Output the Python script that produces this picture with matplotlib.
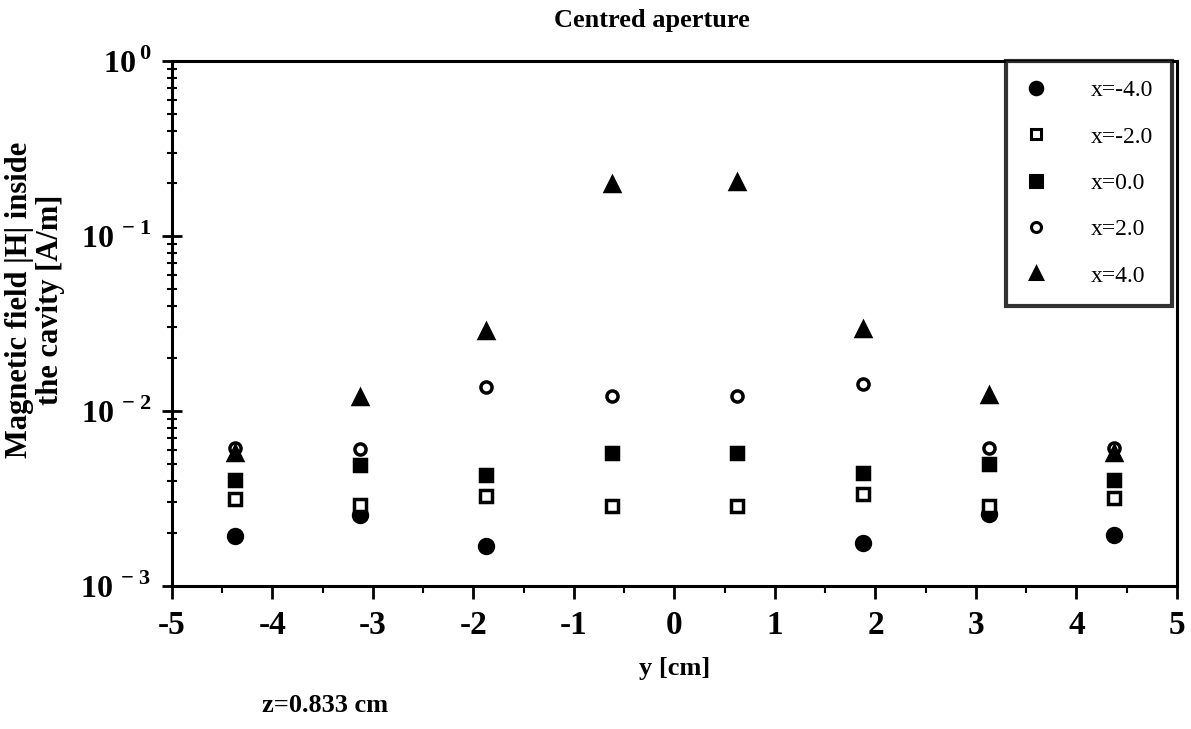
import matplotlib.pyplot as plt
import numpy as np
from matplotlib.lines import Line2D
from matplotlib.ticker import FixedLocator, FixedFormatter, LogLocator, NullFormatter, MultipleLocator

plt.rcParams['font.family'] = ['Liberation Serif', 'DejaVu Serif']
plt.rcParams['font.weight'] = 'bold'
plt.rcParams['mathtext.fontset'] = 'custom'
plt.rcParams['mathtext.rm'] = 'Liberation Serif:bold'
plt.rcParams['mathtext.bf'] = 'Liberation Serif:bold'
plt.rcParams['axes.unicode_minus'] = False

# data
y_cm = [-4.375, -3.125, -1.875, -0.625, 0.625, 1.875, 3.125, 4.375]
h_xm4 = [1.92e-3, 2.55e-3, 1.69e-3, np.nan, np.nan, 1.75e-3, 2.58e-3, 1.96e-3]
h_xm2 = [3.13e-3, 2.90e-3, 3.27e-3, 2.88e-3, 2.88e-3, 3.37e-3, 2.86e-3, 3.18e-3]
h_x0 = [4.01e-3, 4.94e-3, 4.31e-3, 5.75e-3, 5.79e-3, 4.42e-3, 4.98e-3, 4.03e-3]
h_x2 = [6.11e-3, 6.10e-3, 1.37e-2, 1.22e-2, 1.21e-2, 1.42e-2, 6.15e-3, 6.18e-3]
h_x4 = [5.72e-3, 1.20e-2, 2.86e-2, 0.199, 0.203, 2.94e-2, 1.23e-2, 5.79e-3]
labels = ['x=-4.0', 'x=-2.0', 'x=0.0', 'x=2.0', 'x=4.0']

fig = plt.figure(figsize=(11.91, 7.29), dpi=100)
ax = fig.add_axes([0.1444, 0.1962, 0.8438, 0.7201])

# series styles: marker, size, filled
styles = [('o', 10, True), ('s', 8, False), ('s', 9, True), ('o', 8, False), ('^', 10, True)]
series = [h_xm4, h_xm2, h_x0, h_x2, h_x4]

for vals, (m, ms, filled) in zip(series, styles):
    ax.plot(y_cm, vals, linestyle='none', marker=m, markersize=ms,
            markerfacecolor='black' if filled else 'white',
            markeredgecolor='black', markeredgewidth=2.5)

ax.set_yscale('log')
ax.set_xlim(-5, 5)
ax.set_ylim(1e-3, 1)

ax.yaxis.set_major_locator(FixedLocator([1e-3, 1e-2, 1e-1, 1]))
ax.yaxis.set_major_formatter(FixedFormatter([r'$10^{\,-3}$', r'$10^{\,-2}$', r'$10^{\,-1}$', r'$10^{\,0}$']))
ax.yaxis.set_minor_locator(LogLocator(base=10, subs=np.arange(2, 10)))
ax.yaxis.set_minor_formatter(NullFormatter())
ax.xaxis.set_major_locator(MultipleLocator(1))
ax.xaxis.set_minor_locator(MultipleLocator(0.5))

ax.tick_params(axis='y', which='major', direction='inout', length=14, width=2, labelsize=23, pad=8)
ax.tick_params(axis='y', which='minor', direction='inout', length=7, width=1.5)
ax.tick_params(axis='x', which='major', direction='out', length=9, width=2, labelsize=24, pad=8)
ax.tick_params(axis='x', which='minor', direction='out', length=5, width=1.5)

for s in ax.spines.values():
    s.set_linewidth(2.2)

ax.set_xlabel('y [cm]', fontsize=19, fontweight='bold', labelpad=12)
ax.set_ylabel('Magnetic field |H| inside\nthe cavity [A/m]', fontsize=22,
              fontweight='bold', linespacing=1.1)
ax.yaxis.set_label_coords(-0.106, 0.545)

fig.text(0.547, 0.972, 'Centred aperture', ha='center', va='center', fontsize=19, fontweight='bold')
fig.text(0.22, 0.016, 'z=0.833 cm', ha='left', va='bottom', fontsize=19, fontweight='bold')

handles = [Line2D([], [], linestyle='none', marker=m, markersize=ms * 0.9,
                  markerfacecolor='black' if filled else 'white',
                  markeredgecolor='black', markeredgewidth=2.2)
           for (m, ms, filled) in styles]
leg = ax.legend(handles, labels, loc='upper right', bbox_to_anchor=(0.995, 1.0),
                frameon=True, fancybox=False, labelspacing=1.05,
                handlelength=1.0, handletextpad=1.8, borderpad=0.8, borderaxespad=0.0,
                prop={'family': 'Liberation Serif', 'weight': 'normal', 'size': 17})
leg.get_frame().set_edgecolor('black')
leg.get_frame().set_linewidth(3)

fig.savefig('out.png', dpi=100)
